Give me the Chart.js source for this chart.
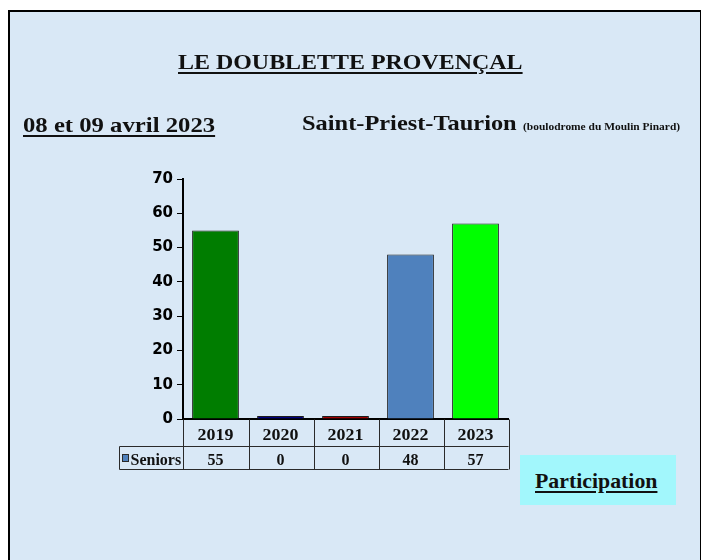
<!DOCTYPE html>
<html>
<head>
<meta charset="utf-8">
<title>Le Doublette Provençal - Participation</title>
<script src="https://cdn.jsdelivr.net/npm/chart.js@4.4.1/dist/chart.umd.min.js"></script>
<style>
  html, body { margin: 0; padding: 0; background: #fff; width: 701px; height: 560px; overflow: hidden; }
  #frame {
    position: absolute; left: 8px; top: 10px; width: 690px; height: 560px;
    border: 2px solid #000; border-bottom: none; background: #d9e8f6;
  }
  #chart { position: absolute; left: 0; top: 0; }
  .txt {
    position: absolute; font-family: 'Liberation Serif', 'Times New Roman', serif;
    font-weight: bold; color: #111; white-space: nowrap; line-height: 1; transform-origin: 0 0;
  }
  .u { text-decoration: underline; text-decoration-thickness: 2px; text-underline-offset: 3px; }
  #partBox { position: absolute; left: 520px; top: 455px; width: 156px; height: 50px; background: #a2f7fc; }
</style>
</head>
<body>
<div id="frame"></div>
<canvas id="chart" width="701" height="560"></canvas>
<div class="txt u" data-w="345" style="left:178px; top:51px; font-size:22px;">LE DOUBLETTE PROVENÇAL</div>
<div class="txt u" data-w="192" style="left:23px; top:114px; font-size:22px;">08 et 09 avril 2023</div>
<div class="txt" data-w="215" style="left:302px; top:113px; font-size:21px;">Saint-Priest-Taurion</div>
<div class="txt" data-w="157" style="left:523px; top:121px; font-size:11px;">(boulodrome du Moulin Pinard)</div>
<div id="partBox"></div>
<div class="txt u" data-w="122" style="left:535px; top:470px; font-size:22px;">Participation</div>
<script>
// data
const years = ['2019', '2020', '2021', '2022', '2023'];
const seniors = [55, 0, 0, 48, 57];
const seriesName = 'Seniors';
const barColors = ['#007d00', '#000080', '#a00000', '#4f81bd', '#00ff00'];
const yMax = 70;
const yStep = 10;

// stretch the serif titles to the widths seen in the picture
document.querySelectorAll('.txt[data-w]').forEach(el => {
    const k = Number(el.dataset.w) / el.offsetWidth;
    el.style.transform = `scaleX(${k})`;
});

// data table under the x axis (years row + Seniors row)
const dataTable = {
    id: 'dataTable',
    afterDraw(chart) {
        const { ctx, chartArea } = chart;
        const x = chart.scales.x;
        const n = years.length;
        const left = Math.round(x.left) + 0.5;
        const right = Math.round(x.right) + 0.5;
        const colW = (right - left) / n;
        const top = Math.round(chartArea.bottom) + 0.5;
        const mid = top + 27;
        const bot = top + 50;
        const labelLeft = left - 64;

        ctx.save();
        ctx.strokeStyle = '#2a2a2a';
        ctx.lineWidth = 1;
        ctx.beginPath();
        ctx.moveTo(left, top); ctx.lineTo(left, bot);
        ctx.moveTo(left, mid); ctx.lineTo(right, mid);
        ctx.moveTo(labelLeft, mid); ctx.lineTo(left, mid);
        ctx.moveTo(labelLeft, mid); ctx.lineTo(labelLeft, bot);
        ctx.moveTo(labelLeft, bot); ctx.lineTo(right, bot);
        for (let i = 1; i <= n; i++) {
            const cx = Math.round(left + colW * i) + 0.5;
            ctx.moveTo(cx, top); ctx.lineTo(cx, bot);
        }
        ctx.stroke();

        ctx.fillStyle = '#111';
        ctx.font = 'bold 16px "Liberation Serif", "Times New Roman", serif';
        ctx.textAlign = 'center';
        ctx.textBaseline = 'alphabetic';
        const drawWide = (txt, cx, by, k) => {
            ctx.save();
            ctx.translate(cx, by);
            ctx.scale(k, 1);
            ctx.fillText(txt, 0, 0);
            ctx.restore();
        };
        years.forEach((yr, i) => {
            const cx = x.getPixelForValue(i);
            drawWide(yr, cx, top + 20, 1.12);
            drawWide(String(seniors[i]), cx, bot - 5, 1.0);
        });

        // legend key + series name
        ctx.fillStyle = barColors[3];
        ctx.fillRect(labelLeft + 3, mid + 8, 6, 7);
        ctx.strokeRect(labelLeft + 3, mid + 8, 6, 7);
        ctx.fillStyle = '#111';
        ctx.textAlign = 'left';
        ctx.fillText(seriesName, labelLeft + 11, bot - 5);
        ctx.restore();
    }
};

new Chart(document.getElementById('chart'), {
    type: 'bar',
    data: {
        labels: years,
        datasets: [{
            label: seriesName,
            data: seniors,
            backgroundColor: barColors,
            borderColor: '#1c1c1c',
            borderWidth: 1,
            minBarLength: 3,
            barPercentage: 0.72,
            categoryPercentage: 1
        }]
    },
    options: {
        responsive: false,
        animation: false,
        layout: { padding: { left: 137, right: 193, top: 179, bottom: 141 } },
        plugins: {
            legend: { display: false },
            tooltip: { enabled: false }
        },
        scales: {
            x: {
                offset: true,
                grid: { display: false },
                border: { display: true, color: '#000', width: 2 },
                ticks: { display: false },
                afterFit: s => { s.height = 0; }
            },
            y: {
                min: 0,
                max: yMax,
                ticks: {
                    stepSize: yStep,
                    color: '#000',
                    padding: 4,
                    font: { family: 'DejaVu Sans', weight: 'bold', size: 15 }
                },
                grid: { drawOnChartArea: false, color: '#000', tickLength: 6 },
                border: { color: '#000', width: 2 },
                afterFit: s => { s.width = 46; }
            }
        }
    },
    plugins: [dataTable]
});
</script>
</body>
</html>
